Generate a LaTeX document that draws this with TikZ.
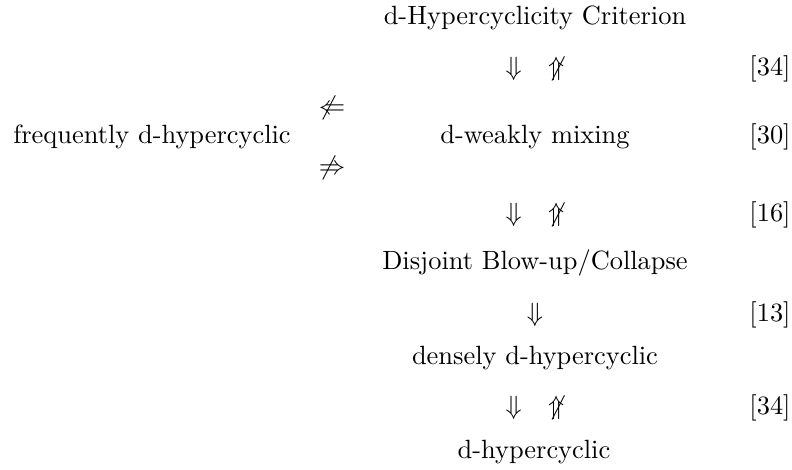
\documentclass[tikz,border=0pt]{standalone}
\usepackage{amssymb}

\tikzstyle{prop}=[inner sep=0pt, anchor=base]
\tikzstyle{impl}=[inner sep=0pt, anchor=base]
\tikzstyle{ref}=[inner sep=0pt, anchor=base]

\begin{document}
\begin{tikzpicture}[x=0.3788pt, y=-0.3788pt]
       \useasboundingbox (0,0) rectangle (792,470);
       \foreach \pos/\name/\txt in {{(535,25)/crit/d-Hypercyclicity Criterion}, {(152,144)/freq/frequently d-hypercyclic}, {(535,144)/mix/d-weakly mixing}, {(535,270)/blow/{Disjoint Blow-up/Collapse}}, {(535,365)/dense/densely d-hypercyclic}, {(534,458)/hyp/d-hypercyclic}} {
           \node[prop] (\name) at \pos {\txt};
       }
       \foreach \pos/\name/\sym in {{(535,76)/i1/$\Downarrow\quad\not\Uparrow$}, {(535,222)/i2/$\Downarrow\quad\not\Uparrow$}, {(535,322)/i3/$\Downarrow$}, {(535,415)/i4/$\Downarrow\quad\not\Uparrow$}, {(332,115)/l1/$\not\Leftarrow$}, {(332,175)/l2/$\not\Rightarrow$}} {
           \node[impl] (\name) at \pos {\sym};
       }
       \foreach \y/\name/\num in {76/r1/34, 144/r2/30, 222/r3/16, 322/r4/13, 415/r5/34} {
           \node[ref] (\name) at (770,\y) {[\num]};
       }
\end{tikzpicture}
\end{document}
